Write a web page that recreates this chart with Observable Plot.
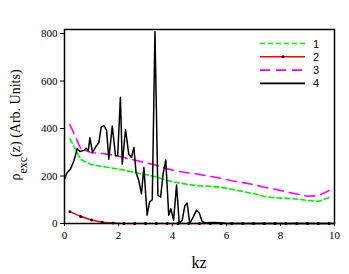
<!DOCTYPE html>
<html>
<head>
<meta charset="utf-8">
<script src="https://cdn.jsdelivr.net/npm/d3@7"></script>
<script src="https://cdn.jsdelivr.net/npm/@observablehq/plot@0.6"></script>
<style>
  html, body { margin: 0; padding: 0; background: #fff; }
  #chart { width: 349px; height: 274px; }
</style>
</head>
<body>
<div id="chart"></div>
<script>
// Series 1-3 sampled on a common kz grid
const kzGrid = [0.2,0.6,1.0,1.4,1.8,2.2,2.6,3.0,3.4,3.8,4.2,4.6,5.0,5.4,5.8,6.2,6.6,7.0,7.4,7.8,8.2,8.6,9.0,9.4,9.8];
const series1 = [357,270,248,240,233,225,215,206,197,181,172,164,158,157,152,144,135,126,114,108,106,103,97,93,110];
const series2 = [50,30,15,5,2,0,0,0,0,0,0,0,0,0,0,0,0,0,0,0,0,0,0,0,0];
const series3 = [417,315,298,295,288,278,267,256,245,230,220,213,207,198,190,180,172,164,153,144,134,124,115,117,139];
// Series 4 (noisy black curve)
const kz4 = [0,0.1,0.22,0.35,0.47,0.57,0.72,0.81,0.88,0.94,1.04,1.15,1.27,1.36,1.46,1.56,1.64,1.77,1.89,1.97,2.07,2.14,2.26,2.38,2.48,2.57,2.65,2.75,2.85,2.94,3.06,3.15,3.25,3.35,3.46,3.56,3.65,3.75,3.86,3.94,4.04,4.15,4.25,4.36,4.46,4.54,4.64,4.77,4.89,4.99,5.1,5.22,5.5,5.8,6.0,7.0,8.0,9.0,10.0];
const series4 = [187,215,229,264,315,303,308,317,306,361,299,322,340,406,412,392,271,410,285,285,532,250,396,292,278,320,215,181,125,236,35,90,100,808,118,111,208,267,35,62,14,162,0,14,76,86,0,28,56,44,7,3,4,3,0,0,0,0,0];
const legendLabels = ["1","2","3","4"];
const yTicks = [0,200,400,600,800];
const xTicks = [0,2,4,6,8,10];

const d1 = kzGrid.map((x,i)=>({x, y: series1[i]}));
const d2 = kzGrid.map((x,i)=>({x, y: series2[i]}));
const d3s = kzGrid.map((x,i)=>({x, y: series3[i]}));
const d4 = kz4.map((x,i)=>({x, y: series4[i]}));

const W = 349, H = 274;
const serif = "'Liberation Serif', 'Times New Roman', serif";

const chart = Plot.plot({
  width: W, height: H,
  marginLeft: 64, marginRight: 15, marginTop: 29, marginBottom: 51,
  style: {fontFamily: serif, fontSize: "11px", background: "#fff", color: "#000"},
  x: {domain: [0,10]},
  y: {domain: [0,817]},
  marks: [
    Plot.line(d3s, {x:"x", y:"y", stroke:"#ff00ff", strokeWidth:1.6, strokeDasharray:"10,6"}),
    Plot.line(d1, {x:"x", y:"y", stroke:"#00ee00", strokeWidth:1.6, strokeDasharray:"5,3"}),
    Plot.line(d2, {x:"x", y:"y", stroke:"#ff0000", strokeWidth:1.6}),
    Plot.dot(d2, {x:"x", y:"y", r:1.5, fill:"#000", stroke:"none"}),
    Plot.line(d4, {x:"x", y:"y", stroke:"#000", strokeWidth:1.5}),
    Plot.frame({stroke:"#000", strokeWidth:1.5}),
    Plot.axisY({ticks: yTicks, tickSize: 4, tickPadding: 3, label: null, fontSize: 11}),
    Plot.axisX({ticks: xTicks, tickSize: 3, tickPadding: 5, label: null, fontSize: 11})
  ]
});
document.getElementById("chart").appendChild(chart);

const svg = d3.select(chart);
// Y-axis title with subscript
const yl = svg.append("text")
  .attr("transform", "translate(20,125) rotate(-90)")
  .attr("text-anchor", "middle")
  .style("font-family", serif)
  .style("font-size", "14px")
  .attr("fill", "#000");
yl.append("tspan").text("ρ");
yl.append("tspan").attr("baseline-shift", "sub").style("font-size", "12px").text("exc");
yl.append("tspan").text("(z) (Arb. Units)");
// X-axis title
svg.append("text")
  .attr("x", 199).attr("y", 268)
  .attr("text-anchor", "middle")
  .style("font-family", serif)
  .style("font-size", "16px")
  .attr("fill", "#000")
  .text("kz");

// Legend
const legStyles = [
  {stroke:"#00ee00", dash:"5,3", dot:false},
  {stroke:"#ff0000", dash:null, dot:true},
  {stroke:"#ff00ff", dash:"10,6", dot:false},
  {stroke:"#000", dash:null, dot:false}
];
const lg = svg.append("g");
legendLabels.forEach((lab, i) => {
  const y = 43.5 + i * 13.3;
  const ln = lg.append("line").attr("x1", 260).attr("x2", 305).attr("y1", y).attr("y2", y)
    .attr("stroke", legStyles[i].stroke).attr("stroke-width", 1.6);
  if (legStyles[i].dash) ln.attr("stroke-dasharray", legStyles[i].dash);
  if (legStyles[i].dot) lg.append("circle").attr("cx", 283).attr("cy", y).attr("r", 1.5).attr("fill", "#000");
  lg.append("text").attr("x", 316).attr("y", y + 4)
    .style("font-family", "'Liberation Sans', Arial, sans-serif").style("font-size", "11px")
    .attr("fill", "#000").text(lab);
});
</script>
</body>
</html>
